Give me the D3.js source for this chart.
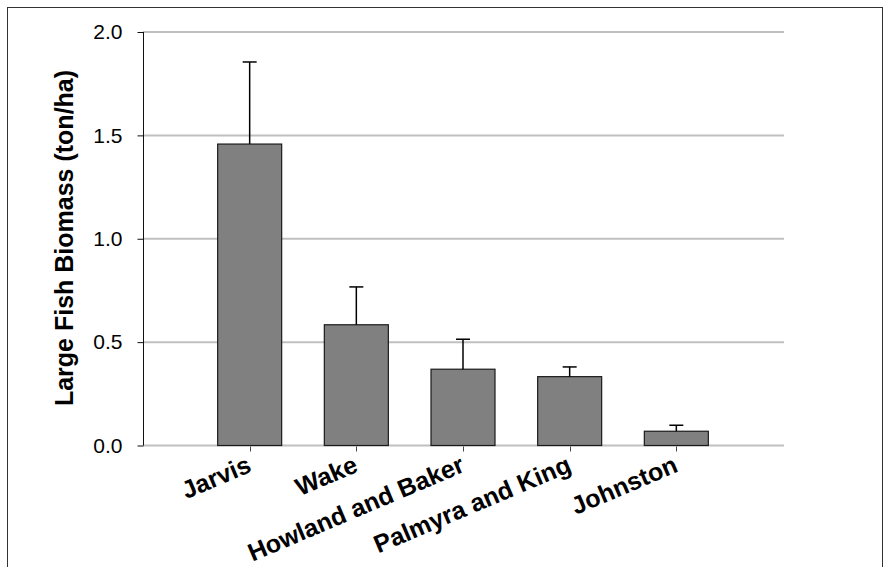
<!DOCTYPE html>
<html>
<head>
<meta charset="utf-8">
<script src="https://cdn.jsdelivr.net/npm/d3@7/dist/d3.min.js"></script>
<style>
  html, body { margin: 0; padding: 0; background: #fff; }
  svg { display: block; font-family: "Liberation Sans", Arial, sans-serif; }
</style>
</head>
<body>
<svg id="chart" width="885" height="567"></svg>
<script>
// ---- data ----
const categories = ["Jarvis", "Wake", "Howland and Baker", "Palmyra and King", "Johnston"];
const biomass    = [1.458, 0.584, 0.369, 0.333, 0.069];
const errorTop   = [1.855, 0.767, 0.514, 0.380, 0.098];
const yTicks     = [0, 0.5, 1.0, 1.5, 2.0];
const yLabel     = "Large Fish Biomass (ton/ha)";

const svg = d3.select("#chart");

// frame
svg.append("rect")
  .attr("x", 7.5).attr("y", 7.5)
  .attr("width", 875).attr("height", 620)
  .attr("fill", "none").attr("stroke", "#333").attr("stroke-width", 1);

const pLeft = 143, pRight = 783, pTop = 32, pBottom = 445.5;

const y = d3.scaleLinear().domain([0, 2]).range([pBottom, pTop]);
const x = d3.scaleBand().domain(categories).range([pLeft, pRight])
  .paddingInner(0.4).paddingOuter(0.7);

// gridlines
svg.append("g").selectAll("line").data(yTicks).join("line")
  .attr("x1", pLeft).attr("x2", pRight + 1)
  .attr("y1", d => y(d)).attr("y2", d => y(d))
  .attr("stroke", "#c0c0c0").attr("stroke-width", 2);

// y axis
const yAxis = svg.append("g")
  .attr("transform", `translate(${pLeft + 0.5},0)`)
  .call(d3.axisLeft(y).tickValues(yTicks).tickFormat(d3.format(".1f")).tickSize(6).tickPadding(15));
yAxis.select(".domain").attr("stroke", "#111").attr("d", `M0,${pTop}V${pBottom}`);
yAxis.selectAll(".tick line").attr("stroke", "#111");
yAxis.selectAll(".tick text")
  .attr("font-family", "Liberation Sans, Arial, sans-serif")
  .attr("font-size", 21).attr("fill", "#000");

// x ticks (downward) at category centers
svg.append("g").selectAll("line").data(categories).join("line")
  .attr("x1", d => Math.round(x(d) + x.bandwidth() / 2) + 0.5)
  .attr("x2", d => Math.round(x(d) + x.bandwidth() / 2) + 0.5)
  .attr("y1", pBottom + 1).attr("y2", pBottom + 6)
  .attr("stroke", "#444").attr("stroke-width", 1);

// bars
const data = categories.map((c, i) => ({ c, v: biomass[i], e: errorTop[i] }));
svg.append("g").selectAll("rect").data(data).join("rect")
  .attr("x", d => x(d.c))
  .attr("y", d => y(d.v))
  .attr("width", x.bandwidth())
  .attr("height", d => y(0) - y(d.v))
  .attr("fill", "#808080").attr("stroke", "#1a1a1a").attr("stroke-width", 1.2);

// error bars
const eg = svg.append("g").attr("stroke", "#000").attr("stroke-width", 1.5);
eg.selectAll("line.v").data(data).join("line").attr("class", "v")
  .attr("x1", d => x(d.c) + x.bandwidth() / 2)
  .attr("x2", d => x(d.c) + x.bandwidth() / 2)
  .attr("y1", d => y(d.v)).attr("y2", d => y(d.e));
eg.selectAll("line.c").data(data).join("line").attr("class", "c")
  .attr("x1", d => x(d.c) + x.bandwidth() / 2 - 7)
  .attr("x2", d => x(d.c) + x.bandwidth() / 2 + 7)
  .attr("y1", d => y(d.e)).attr("y2", d => y(d.e));

// x labels rotated
svg.append("g").selectAll("text").data(categories).join("text")
  .attr("transform", d => `translate(${x(d) + x.bandwidth() / 2 - 4},${pBottom + 9}) rotate(-23)`)
  .attr("text-anchor", "end")
  .attr("dy", "0.72em")
  .attr("font-size", 25).attr("font-weight", "bold").attr("fill", "#000")
  .text(d => d);

// y label
svg.append("text")
  .attr("transform", `translate(73,238) rotate(-90)`)
  .attr("text-anchor", "middle")
  .attr("font-size", 25).attr("font-weight", "bold").attr("fill", "#000")
  .text(yLabel);
</script>
</body>
</html>
